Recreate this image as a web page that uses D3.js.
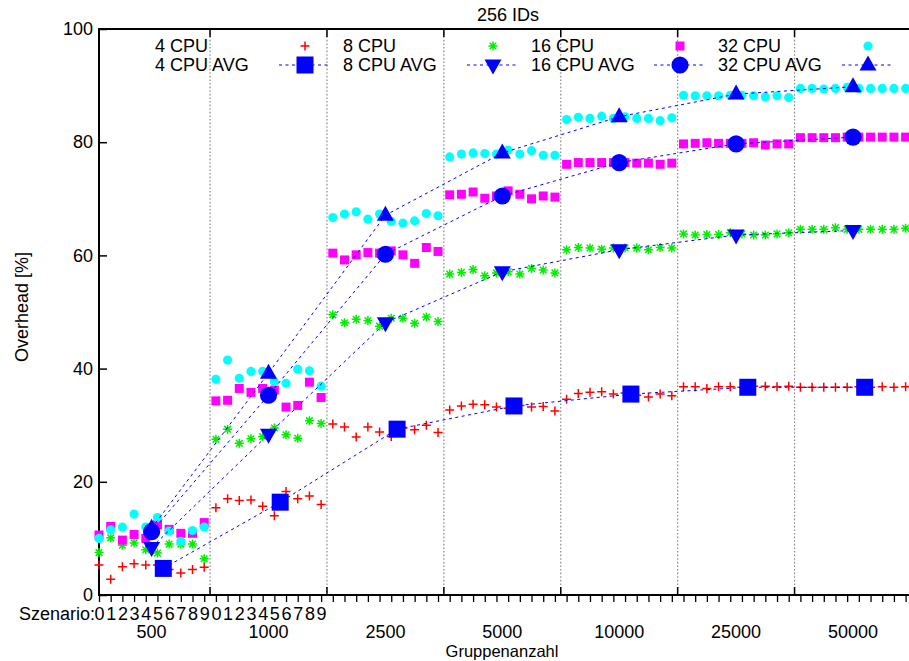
<!DOCTYPE html>
<html><head><meta charset="utf-8">
<script src="https://cdn.jsdelivr.net/npm/d3@7"></script>
<style>
body{margin:0;background:#fff}
svg{display:block;font-family:"Liberation Sans",Arial,Helvetica,sans-serif}
</style>
</head><body>
<svg id="chart" width="909" height="661"></svg>
<script>
// ---------------- data ----------------
const chartTitle = "256 IDs";
const xTitle = "Gruppenanzahl";
const yTitle = "Overhead [%]";
const scenarioPrefix = "Szenario:";
const groups = ["500", "1000", "2500", "5000", "10000", "25000", "50000"];
const scenarioLabels = ["0","1","2","3","4","5","6","7","8","9"];
const labeledGroups = 2;
const yTicks = [0, 20, 40, 60, 80, 100];

const seriesNames = ["4 CPU", "8 CPU", "16 CPU", "32 CPU"];
const avgNames = ["4 CPU AVG", "8 CPU AVG", "16 CPU AVG", "32 CPU AVG"];

const cpu4 = [
  5.3, 2.8, 5.0, 5.5, 5.3, 5.3, 4.5, 3.9, 4.5, 4.9,
  15.4, 17.0, 16.7, 16.8, 15.7, 14.0, 18.3, 17.0, 17.5, 16.0,
  30.2, 29.7, 27.9, 29.7, 28.8, 28.0, 29.5, 29.2, 30.0, 28.7,
  32.7, 33.4, 33.7, 33.6, 33.2, 33.0, 33.5, 33.2, 33.3, 32.5,
  34.6, 35.6, 35.8, 35.9, 35.5, 35.7, 35.3, 35.0, 35.5, 35.2,
  36.8, 36.8, 36.5, 36.8, 36.8, 36.7, 36.9, 36.9, 36.8, 36.9,
  36.7, 36.7, 36.7, 36.7, 36.7, 36.8, 36.7, 36.8, 36.7, 36.8
];
const cpu8 = [
  7.5, 10.1, 8.8, 9.2, 8.0, 7.4, 9.0, 9.0, 9.0, 6.4,
  27.5, 29.3, 26.8, 27.6, 28.0, 29.5, 28.3, 27.7, 30.8, 30.3,
  49.5, 48.1, 48.7, 48.5, 47.5, 48.9, 48.9, 48.0, 49.1, 48.3,
  56.7, 57.0, 57.5, 56.4, 56.9, 57.1, 56.7, 57.7, 57.4, 56.9,
  61.0, 61.4, 61.3, 61.1, 61.3, 61.3, 61.3, 61.0, 61.4, 61.3,
  63.8, 63.6, 63.7, 63.7, 64.0, 63.8, 63.6, 63.6, 63.8, 64.0,
  64.6, 64.6, 64.6, 64.9, 64.6, 64.6, 64.6, 64.6, 64.6, 64.8
];
const cpu16 = [
  10.6, 12.1, 9.7, 10.7, 10.0, 12.4, 11.6, 10.9, 10.9, 12.8,
  34.3, 34.4, 36.5, 35.8, 36.5, 36.2, 33.2, 33.5, 37.6, 34.9,
  60.4, 59.2, 60.1, 60.5, 60.4, 60.8, 60.1, 58.6, 61.4, 60.7,
  70.7, 70.8, 71.2, 70.1, 70.5, 71.4, 70.8, 70.0, 70.5, 70.3,
  76.1, 76.4, 76.4, 76.4, 76.4, 76.4, 76.3, 76.3, 76.1, 76.3,
  79.7, 79.8, 79.9, 79.8, 79.8, 79.8, 79.9, 79.5, 79.7, 79.7,
  80.8, 80.8, 80.8, 80.8, 80.9, 80.9, 80.9, 80.9, 80.9, 80.9
];
const cpu32 = [
  10.0, 11.5, 12.0, 14.3, 12.0, 13.7, 11.3, 9.5, 11.4, 12.0,
  38.1, 41.5, 38.3, 39.5, 39.5, 37.7, 37.4, 39.9, 39.6, 36.9,
  66.7, 67.3, 67.7, 66.4, 67.3, 66.0, 65.7, 66.1, 67.4, 67.0,
  77.4, 77.9, 78.1, 78.0, 77.9, 78.6, 77.9, 78.5, 77.7, 77.7,
  84.0, 84.4, 84.2, 84.6, 84.2, 84.5, 84.2, 84.2, 83.8, 84.3,
  88.3, 88.2, 88.2, 88.2, 88.3, 88.3, 88.2, 88.0, 88.2, 87.9,
  89.5, 89.5, 89.4, 89.5, 89.7, 89.5, 89.5, 89.5, 89.5, 89.5
];

const cpu4Avg  = [4.7, 16.4, 29.3, 33.4, 35.5, 36.7, 36.7];
const cpu8Avg  = [8.4, 28.4, 48.1, 57.1, 61.0, 63.6, 64.4];
const cpu16Avg = [11.2, 35.3, 60.2, 70.5, 76.4, 79.7, 80.9];
const cpu32Avg = [11.8, 39.2, 67.1, 78.1, 84.5, 88.5, 89.8];

// ---------------- layout ----------------
(function () {
const W = 909, H = 661;
const pLeft = 99, pTop = 29, pBottom = 595, pRight = 909;
const perGroup = scenarioLabels.length;
const nPts = groups.length * perGroup;

const x = d3.scaleLinear().domain([0, nPts - 1]).range([pLeft, pLeft + (nPts - 1) * 11.69]);
const y = d3.scaleLinear().domain([0, 100]).range([pBottom, pTop]);

const svg = d3.select("#chart");
svg.append("rect").attr("width", W).attr("height", H).attr("fill", "#fff");

const FS = 18;
const FONT = '"Liberation Sans",Arial,Helvetica,sans-serif';

// group separators (dotted grid)
const seps = d3.range(1, groups.length).map(g => g * perGroup - 0.5);
svg.append("g").selectAll("line").data(seps).join("line")
  .attr("x1", d => x(d)).attr("x2", d => x(d))
  .attr("y1", pTop).attr("y2", pBottom)
  .attr("stroke", "#8a8a8a").attr("stroke-width", 1.2).attr("stroke-dasharray", "1.6,2");
svg.append("g").selectAll("line").data(seps).join("line")
  .attr("x1", d => x(d)).attr("x2", d => x(d))
  .attr("y1", pTop).attr("y2", pTop + 8).attr("stroke", "#000").attr("stroke-width", 1.5);
svg.append("g").selectAll("line").data(seps).join("line")
  .attr("x1", d => x(d)).attr("x2", d => x(d))
  .attr("y1", pBottom - 8).attr("y2", pBottom).attr("stroke", "#000").attr("stroke-width", 1.5);

// y axis
const yAxis = d3.axisLeft(y).tickValues(yTicks).tickSizeInner(-8).tickSizeOuter(0).tickPadding(6);
const gy = svg.append("g").attr("transform", `translate(${pLeft},0)`).call(yAxis);
gy.select(".domain").remove();
gy.selectAll(".tick line").attr("stroke", "#000").attr("stroke-width", 1.5);
gy.selectAll(".tick text").attr("font-size", FS).attr("fill", "#000").attr("font-family", FONT);

// x axis (scenario ticks)
const xAxis = d3.axisBottom(x).tickValues(d3.range(nPts)).tickSizeInner(7).tickSizeOuter(0)
  .tickPadding(5)
  .tickFormat(d => Math.floor(d / perGroup) < labeledGroups ? scenarioLabels[d % perGroup] : "");
const gx = svg.append("g").attr("transform", `translate(0,${pBottom})`).call(xAxis);
gx.select(".domain").remove();
gx.selectAll(".tick line").attr("stroke", "#000").attr("stroke-width", 1.3);
gx.selectAll(".tick text").attr("font-size", FS).attr("fill", "#000").attr("font-family", FONT);

svg.append("text").attr("x", pLeft - 4).attr("y", 620).attr("text-anchor", "end")
  .attr("font-size", FS).text(scenarioPrefix);

// group labels
svg.append("g").selectAll("text").data(groups).join("text")
  .attr("x", (d, i) => x(i * perGroup + (perGroup - 1) / 2))
  .attr("y", 638).attr("text-anchor", "middle").attr("font-size", FS).text(d => d);

svg.append("text").attr("x", 502).attr("y", 657).attr("text-anchor", "middle")
  .attr("font-size", 16.5).text(xTitle);

svg.append("text").attr("transform", "translate(28,307) rotate(-90)")
  .attr("text-anchor", "middle").attr("font-size", FS).text(yTitle);

svg.append("text").attr("x", 508).attr("y", 21).attr("text-anchor", "middle")
  .attr("font-size", FS).text(chartTitle);

// frame
svg.append("path")
  .attr("d", `M${pRight + 2},${pTop}H${pLeft}V${pBottom}H${pRight + 2}`)
  .attr("fill", "none").attr("stroke", "#000").attr("stroke-width", 2);

// ---------------- markers ----------------
const markers = {
  plus: { d: "M-4.5,0H4.5M0,-4.5V4.5", stroke: true },
  star: { d: "M-4.5,0H4.5M0,-4.5V4.5M-3.3,-3.3L3.3,3.3M-3.3,3.3L3.3,-3.3", stroke: true },
  square: { d: d3.symbol(d3.symbolSquare, 81)() },
  circle: { d: d3.symbol(d3.symbolCircle, 66)() },
  bigSquare: { d: d3.symbol(d3.symbolSquare, 289)() },
  bigCircle: { d: d3.symbol(d3.symbolCircle, 230)() },
  triDown: { d: "M-8.5,-5.5L8.5,-5.5L0,9.5Z" },
  triUp: { d: "M0,-9.5L8.5,5.5L-8.5,5.5Z" }
};
function drawMarker(g, type, cx, cy, color) {
  const m = markers[type];
  const p = g.append("path").attr("d", m.d).attr("transform", `translate(${cx},${cy})`);
  if (m.stroke) p.attr("fill", "none").attr("stroke", color).attr("stroke-width", 1.5);
  else p.attr("fill", color);
}

const pointSeries = [
  { name: seriesNames[0], values: cpu4, marker: "plus", color: "#ff0000" },
  { name: seriesNames[1], values: cpu8, marker: "star", color: "#00ee00" },
  { name: seriesNames[2], values: cpu16, marker: "square", color: "#ff00ff" },
  { name: seriesNames[3], values: cpu32, marker: "circle", color: "#00ffff" }
];
const AVG_COLOR = "#0000ff";
const avgSeries = [
  { name: avgNames[0], values: cpu4Avg, marker: "bigSquare", offset: 5.5 },
  { name: avgNames[1], values: cpu8Avg, marker: "triDown", offset: 4.5 },
  { name: avgNames[2], values: cpu16Avg, marker: "bigCircle", offset: 4.5 },
  { name: avgNames[3], values: cpu32Avg, marker: "triUp", offset: 4.5 }
];

const plot = svg.append("g");
pointSeries.forEach(s => {
  const g = plot.append("g");
  s.values.forEach((v, i) => drawMarker(g, s.marker, x(i), y(v), s.color));
});
const line = d3.line().x(d => x(d[0])).y(d => y(d[1]));
avgSeries.forEach(s => {
  const g = plot.append("g");
  const pts = s.values.map((v, gi) => [gi * perGroup + s.offset, v]);
  g.append("path").attr("d", line(pts)).attr("fill", "none")
    .attr("stroke", AVG_COLOR).attr("stroke-width", 1).attr("stroke-dasharray", "3,3.5");
  pts.forEach(p => drawMarker(g, s.marker, x(p[0]), y(p[1]), AVG_COLOR));
});

// ---------------- legend ----------------
const lg = svg.append("g");
const colText = [155, 343, 531, 718];
const colSample = [305, 493, 680, 868];
const rowY = [46, 65];
pointSeries.forEach((s, i) => {
  lg.append("text").attr("x", colText[i]).attr("y", rowY[0]).attr("dy", "0.36em")
    .attr("font-size", FS).text(s.name);
  drawMarker(lg, s.marker, colSample[i], rowY[0], s.color);
});
avgSeries.forEach((s, i) => {
  lg.append("text").attr("x", colText[i]).attr("y", rowY[1]).attr("dy", "0.36em")
    .attr("font-size", FS).text(s.name);
  lg.append("line").attr("x1", colSample[i] - 26).attr("x2", colSample[i] + 26)
    .attr("y1", rowY[1]).attr("y2", rowY[1])
    .attr("stroke", AVG_COLOR).attr("stroke-width", 1).attr("stroke-dasharray", "3,3.5");
  drawMarker(lg, s.marker, colSample[i], rowY[1], AVG_COLOR);
});
})();
</script>
</body></html>
